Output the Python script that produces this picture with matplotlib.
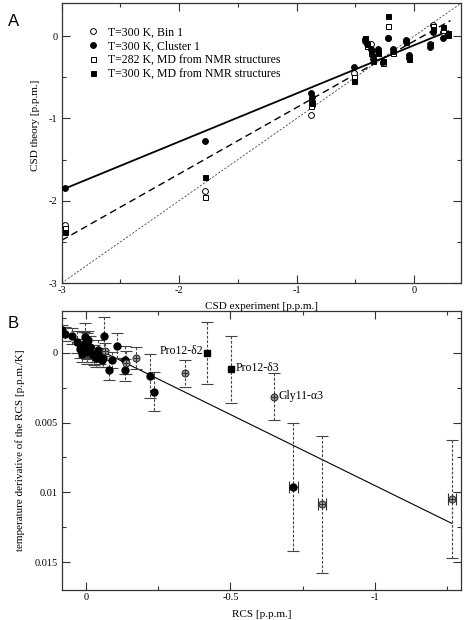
import matplotlib
matplotlib.use("Agg")
import matplotlib.pyplot as plt
from matplotlib.ticker import MultipleLocator, FormatStrFormatter
import numpy as np

plt.rcParams['font.family'] = ['Liberation Serif', 'DejaVu Serif']
plt.rcParams['axes.unicode_minus'] = False

# ---------------- Panel A data ----------------
csd_exp = [-2.97, -1.78, -0.88, -0.87, -0.51, -0.42, -0.40, -0.37, -0.35, -0.31,
           -0.26, -0.22, -0.18, -0.07, -0.04, 0.14, 0.16, 0.25, 0.29]
bin1 = [-2.30, -1.88, -0.96, -0.84, -0.45, -0.06, -0.10, -0.09, -0.28, -0.18,
        -0.33, -0.02, -0.19, -0.06, -0.27, -0.10, 0.14, 0.05, 0.03]
cluster1 = [-1.85, -1.27, -0.69, -0.74, -0.37, -0.03, -0.08, -0.15, -0.24, -0.15,
            -0.31, -0.02, -0.16, -0.05, -0.23, -0.13, 0.05, -0.02, 0.02]
md282 = [-2.33, -1.96, -0.85, -0.80, -0.50, -0.05, -0.12, -0.20, -0.30, -0.20,
         -0.32, 0.12, -0.20, -0.07, -0.26, -0.09, 0.13, 0.08, 0.02]
md300 = [-2.38, -1.71, -0.78, -0.81, -0.55, -0.02, -0.10, -0.18, -0.29, -0.21,
         -0.30, 0.25, -0.18, -0.06, -0.28, -0.11, 0.09, 0.11, 0.04]
legend_labels = ["T=300 K, Bin 1", "T=300 K, Cluster 1",
                 "T=282 K, MD from NMR structures", "T=300 K, MD from NMR structures"]

# fit lines (x range, slope, intercept)
fit_solid_x = [-2.97, 0.29]
fit_solid = (0.586, -0.11)
fit_dash_x = [-3.0, 0.31]
fit_dash = (0.807, -0.06)
ident_x = [-3.0, 0.4]

# ---------------- Panel B data ----------------
# filled circles
fc_rcs = [0.081, 0.072, 0.048, 0.030, 0.020, 0.012, 0.005, 0.002, -0.005, -0.009,
          -0.015, -0.020, -0.003, -0.028, -0.035, -0.038, -0.044, -0.049, -0.057,
          -0.061, -0.063, -0.082, -0.092, -0.107, -0.136, -0.136, -0.222, -0.236]
fc_dt = [-0.00162, -0.00138, -0.00121, -0.00080, -0.00030, 0.00005, -0.00060, -0.00114,
         -0.00030, -0.00090, -0.00043, 0.00005, -0.00007, 0.00017, 0.00040, 0.00017,
         -0.00020, 0.00029, 0.00050, 0.00040, -0.00119, 0.00124, 0.00052, -0.00050,
         0.00052, 0.00124, 0.00167, 0.00279]
fc_err = [0.0004, 0.0005, 0.0006, 0.0008, 0.0007, 0.0006, 0.0009, 0.0010, 0.0011, 0.0007,
          0.0008, 0.0006, 0.0005, 0.0007, 0.0006, 0.0005, 0.0007, 0.0005, 0.0005,
          0.0006, 0.0014, 0.0007, 0.0006, 0.0009, 0.0010, 0.0008, 0.0016, 0.0014]
# isolated filled circle with x error
fcx_rcs = [-0.718]
fcx_dt = [0.00964]
fcx_err = [0.0046]
fcx_xerr = [0.014]
# grey circles
gc_rcs = [-0.065, -0.140, -0.174, -0.344, -0.652]
gc_dt = [-0.00010, 0.00070, 0.00036, 0.00148, 0.00314]
gc_err = [0.0006, 0.0008, 0.0008, 0.0010, 0.0017]
# grey circles with x error
gcx_rcs = [-0.818, -1.265]
gcx_dt = [0.01086, 0.01048]
gcx_err = [0.0049, 0.0042]
gcx_xerr = [0.014, 0.014]
# filled squares
sq_rcs = [-0.420, -0.502]
sq_dt = [0.0000, 0.00119]
sq_err = [0.0022, 0.0024]
# annotations
ann_text = ["Pro12-δ2", "Pro12-δ3", "Gly11-α3"]
ann_x = [-0.42, -0.502, -0.652]
ann_y = [0.0000, 0.00119, 0.00314]
# fit line in B
fitB_x = [-0.05, -1.265]
fitB = (-0.0102, -0.00068)

W, H = 465, 620
fig = plt.figure(figsize=(W / 100, H / 100), dpi=100)
axA = fig.add_axes([61.7 / W, 1 - 283 / H, (461 - 61.7) / W, (283 - 3.3) / H])
axB = fig.add_axes([61.7 / W, 1 - 590 / H, (461 - 61.7) / W, (590 - 311) / H])

frame_col = '#333333'
for ax in (axA, axB):
    for s in ax.spines.values():
        s.set_color(frame_col)
        s.set_linewidth(0.9)
    ax.tick_params(which='both', direction='in', top=True, right=True,
                   colors=frame_col, labelcolor='black', labelsize=7.5)
    ax.tick_params(which='major', length=6, width=0.8)
    ax.tick_params(which='minor', length=3, width=0.8)
    ax.tick_params(axis='x', pad=2.5)
    ax.tick_params(axis='y', pad=3)

# ---- Panel A ----
xs = np.array(ident_x)
axA.plot(xs, xs, color='#444444', lw=0.6, ls=(0, (2.5, 2)), zorder=1)
xs = np.array(fit_dash_x)
axA.plot(xs, fit_dash[0] * xs + fit_dash[1], color='black', lw=1.0, ls=(0, (5, 3)), zorder=1)
xs = np.array(fit_solid_x)
axA.plot(xs, fit_solid[0] * xs + fit_solid[1], color='black', lw=1.3, zorder=1)

h1, = axA.plot(csd_exp, bin1, 'o', ms=4.2, mfc='white', mec='black', mew=0.7, ls='none', zorder=3)
h2, = axA.plot(csd_exp, cluster1, 'o', ms=4.2, mfc='black', mec='black', mew=0.7, ls='none', zorder=4)
h3, = axA.plot(csd_exp, md282, 's', ms=3.6, mfc='white', mec='black', mew=0.7, ls='none', zorder=3)
h4, = axA.plot(csd_exp, md300, 's', ms=3.6, mfc='black', mec='black', mew=0.7, ls='none', zorder=4)

axA.legend([h1, h2, h3, h4], legend_labels, loc='upper left', bbox_to_anchor=(0.063, 0.918),
           frameon=False, fontsize=8.5, handlelength=1.0, handletextpad=0.75,
           labelspacing=0.17, borderpad=0, borderaxespad=0)

axA.set_xlim(-3, 0.4)
axA.set_ylim(-3, 0.4)
axA.xaxis.set_major_locator(MultipleLocator(1))
axA.xaxis.set_minor_locator(MultipleLocator(0.5))
axA.yaxis.set_major_locator(MultipleLocator(1))
axA.yaxis.set_minor_locator(MultipleLocator(0.5))
axA.xaxis.set_major_formatter(FormatStrFormatter('%g'))
axA.yaxis.set_major_formatter(FormatStrFormatter('%g'))
axA.set_xlabel("CSD experiment [p.p.m.]", fontsize=8)
axA.set_ylabel("CSD theory [p.p.m.]", fontsize=8)
axA.xaxis.set_label_coords(0.5, -0.068)
axA.yaxis.set_label_coords(-0.054, 0.565)

# ---- Panel B ----
xs = np.array(fitB_x)
axB.plot(xs, fitB[0] * xs + fitB[1], color='black', lw=0.8, zorder=1)

def ebar(ax, x, y, yerr, xerr=None):
    eb = ax.errorbar(x, y, yerr=yerr, xerr=xerr, fmt='none', ecolor='#444444',
                     elinewidth=0.8, capsize=4, capthick=0.8, zorder=2)
    for lc in eb[2]:
        lc.set_linestyle((0, (2.5, 1.5)))
    return eb

ebar(axB, fc_rcs, fc_dt, fc_err)
ebar(axB, fcx_rcs, fcx_dt, fcx_err)
ebar(axB, gc_rcs, gc_dt, gc_err)
ebar(axB, gcx_rcs, gcx_dt, gcx_err)
ebar(axB, sq_rcs, sq_dt, sq_err)
# small horizontal error caps
for xv, yv, xe in zip(fcx_rcs + gcx_rcs, fcx_dt + gcx_dt, fcx_xerr + gcx_xerr):
    axB.errorbar([xv], [yv], xerr=[xe], fmt='none', ecolor='#333333', elinewidth=0.8,
                 capsize=4, capthick=0.8, zorder=2)

axB.plot(fc_rcs + fcx_rcs, fc_dt + fcx_dt, 'o', ms=5, mfc='black', mec='black', ls='none', zorder=4)
axB.plot(gc_rcs + gcx_rcs, gc_dt + gcx_dt, 'o', ms=5, mfc='#9a9a9a', mec='#222222', mew=0.7,
         ls='none', zorder=4)
axB.plot(gc_rcs + gcx_rcs, gc_dt + gcx_dt, '+', ms=4, mec='#222222', mew=0.6, ls='none', zorder=5)
axB.plot(sq_rcs, sq_dt, 's', ms=4.3, mfc='black', mec='black', ls='none', zorder=4)

axB.annotate(ann_text[0], (ann_x[0], ann_y[0]), xytext=(-3, 1.5), textcoords='offset points',
             ha='right', va='center', fontsize=8.5)
axB.annotate(ann_text[1], (ann_x[1], ann_y[1]), xytext=(3, 0.8), textcoords='offset points',
             ha='left', va='center', fontsize=8.5)
axB.annotate(ann_text[2], (ann_x[2], ann_y[2]), xytext=(3, 0.3), textcoords='offset points',
             ha='left', va='center', fontsize=8.5)

axB.set_xlim(0.083, -1.297)
axB.set_ylim(0.017, -0.003)
axB.xaxis.set_major_locator(MultipleLocator(0.5))
axB.xaxis.set_minor_locator(MultipleLocator(0.25))
axB.yaxis.set_major_locator(MultipleLocator(0.005))
axB.yaxis.set_minor_locator(MultipleLocator(0.0025))
axB.xaxis.set_major_formatter(FormatStrFormatter('%g'))
axB.yaxis.set_major_formatter(FormatStrFormatter('%g'))
axB.set_xlabel("RCS [p.p.m.]", fontsize=8)
axB.set_ylabel("temperature derivative of the RCS [p.p.m./K]", fontsize=8)
axB.xaxis.set_label_coords(0.5, -0.072)
axB.yaxis.set_label_coords(-0.092, 0.5)

fig.text(8 / W, 1 - 22 / H, "A", family=['Liberation Sans', 'DejaVu Sans'], fontsize=12,
         ha='left', va='center')
fig.text(8 / W, 1 - 323 / H, "B", family=['Liberation Sans', 'DejaVu Sans'], fontsize=12,
         ha='left', va='center')

fig.savefig("out.png", dpi=100)
